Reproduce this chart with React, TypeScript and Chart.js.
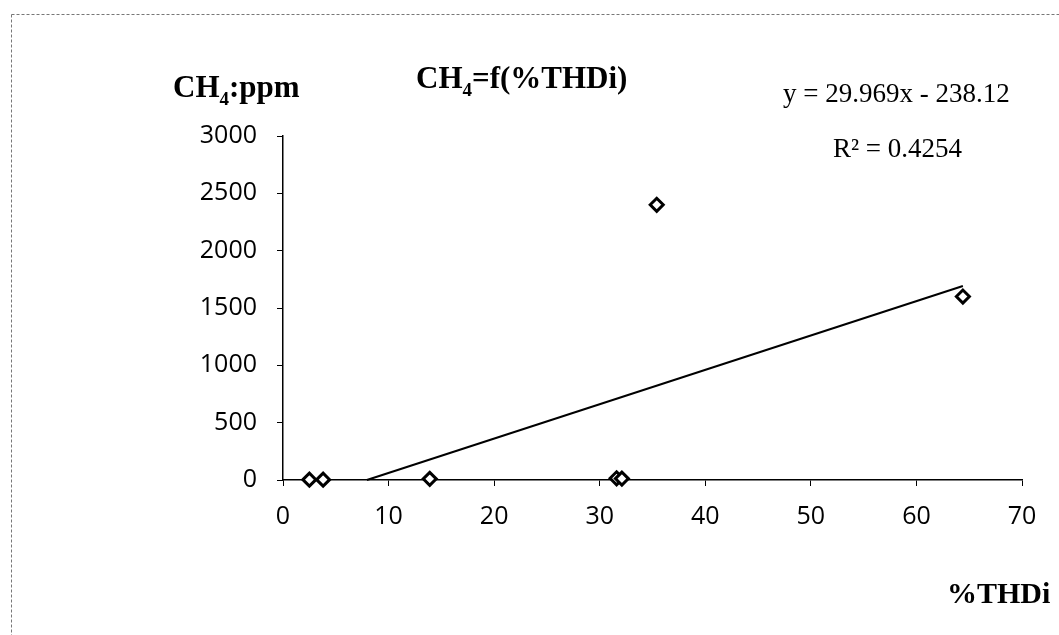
import React, { useEffect, useRef } from "react";
import { Chart, registerables } from "chart.js";

Chart.register(...registerables);

// Data
const xValues = [2.5, 3.8, 13.9, 31.6, 32.1, 35.4, 64.4];
const yValues = [3, 3, 10, 15, 12, 2400, 1600];

// Linear trend line as stated on the chart
const SLOPE = 29.969;
const INTERCEPT = -238.12;

const xTicks = [0, 10, 20, 30, 40, 50, 60, 70];
const yTicks = [0, 500, 1000, 1500, 2000, 2500, 3000];

const W = 1059;
const H = 635;

type Run = { t: string; font: string; dy?: number };

function drawRuns(ctx: CanvasRenderingContext2D, runs: Run[], x: number, y: number) {
  let cx = x;
  for (const r of runs) {
    ctx.font = r.font;
    ctx.fillText(r.t, cx, y + (r.dy || 0));
    cx += ctx.measureText(r.t).width;
  }
}

const textPlugin = {
  id: "texts",
  beforeDraw(chart: any) {
    const ctx = chart.ctx as CanvasRenderingContext2D;
    ctx.save();
    ctx.strokeStyle = "#777";
    ctx.lineWidth = 1;
    ctx.setLineDash([3, 2]);
    ctx.beginPath();
    ctx.moveTo(11.5, 14.5);
    ctx.lineTo(W, 14.5);
    ctx.moveTo(11.5, 14.5);
    ctx.lineTo(11.5, H);
    ctx.stroke();
    ctx.restore();
  },
  afterDraw(chart: any) {
    const ctx = chart.ctx as CanvasRenderingContext2D;
    ctx.save();
    ctx.fillStyle = "#000";
    ctx.textBaseline = "alphabetic";
    ctx.textAlign = "left";
    const B = 'bold 31px "Liberation Serif", "Times New Roman", serif';
    const BS = 'bold 19px "Liberation Serif", "Times New Roman", serif';
    drawRuns(ctx, [
      { t: "CH", font: B },
      { t: "4", font: BS, dy: 8 },
      { t: ":ppm", font: B },
    ], 173, 97);
    drawRuns(ctx, [
      { t: "CH", font: B },
      { t: "4", font: BS, dy: 8 },
      { t: "=f(%THDi)", font: B },
    ], 416, 88);
    const R = '27px "Liberation Serif", "Times New Roman", serif';
    drawRuns(ctx, [{ t: "y = 29.969x - 238.12", font: R }], 783, 102);
    drawRuns(ctx, [{ t: "R\u00B2 = 0.4254", font: R }], 833, 157);
    drawRuns(ctx, [{ t: "%THDi", font: 'bold 30px "Liberation Serif", "Times New Roman", serif' }], 947, 603);
    ctx.restore();
  },
};

export default function App() {
  const ref = useRef<HTMLCanvasElement | null>(null);

  useEffect(() => {
    const canvas = ref.current;
    if (!canvas) return;
    const points = xValues.map((x, i) => ({ x, y: yValues[i] }));
    const xStart = -INTERCEPT / SLOPE;
    const xEnd = Math.max(...xValues);
    const trend = [
      { x: xStart, y: SLOPE * xStart + INTERCEPT },
      { x: xEnd, y: SLOPE * xEnd + INTERCEPT },
    ];
    const tickFont = { family: '"Open Sans", sans-serif', size: 25 };
    const chart = new Chart(canvas, {
      type: "scatter",
      data: {
        datasets: [
          {
            data: points,
            pointStyle: "rectRot",
            pointRadius: 6.5,
            pointBorderWidth: 3,
            borderColor: "#000",
            backgroundColor: "#fff",
            clip: false,
            order: 0,
          } as any,
          {
            data: trend,
            showLine: true,
            borderColor: "#000",
            borderWidth: 2,
            pointRadius: 0,
            clip: false,
            order: 1,
          } as any,
        ],
      },
      options: {
        animation: false,
        responsive: false,
        layout: { padding: { top: 136, right: 37, left: 0, bottom: 0 } },
        plugins: { legend: { display: false }, tooltip: { enabled: false }, title: { display: false } },
        scales: {
          x: {
            type: "linear",
            min: xTicks[0],
            max: xTicks[xTicks.length - 1],
            afterBuildTicks: (s: any) => {
              s.ticks = xTicks.map((v) => ({ value: v }));
            },
            ticks: { color: "#000", font: tickFont, padding: 16, maxRotation: 0, callback: (v: any) => String(v) },
            grid: { drawOnChartArea: false, color: "#000", tickLength: 6, lineWidth: 1 },
            border: { color: "#000", width: 1.5 },
            afterFit: (s: any) => {
              s.height = 155;
            },
          },
          y: {
            type: "linear",
            min: yTicks[0],
            max: yTicks[yTicks.length - 1],
            afterBuildTicks: (s: any) => {
              s.ticks = yTicks.map((v) => ({ value: v }));
            },
            ticks: { color: "#000", font: tickFont, padding: 20, callback: (v: any) => String(v) },
            grid: { drawOnChartArea: false, color: "#000", tickLength: 6, lineWidth: 1 },
            border: { color: "#000", width: 1.5 },
            afterFit: (s: any) => {
              s.width = 283;
            },
          },
        },
      },
      plugins: [textPlugin],
    });
    return () => chart.destroy();
  }, []);

  return (
    <div style={{ position: "absolute", left: 0, top: 0, width: W, height: H, background: "#fff" }}>
      <canvas ref={ref} width={W} height={H} style={{ display: "block", width: W, height: H }} />
    </div>
  );
}
